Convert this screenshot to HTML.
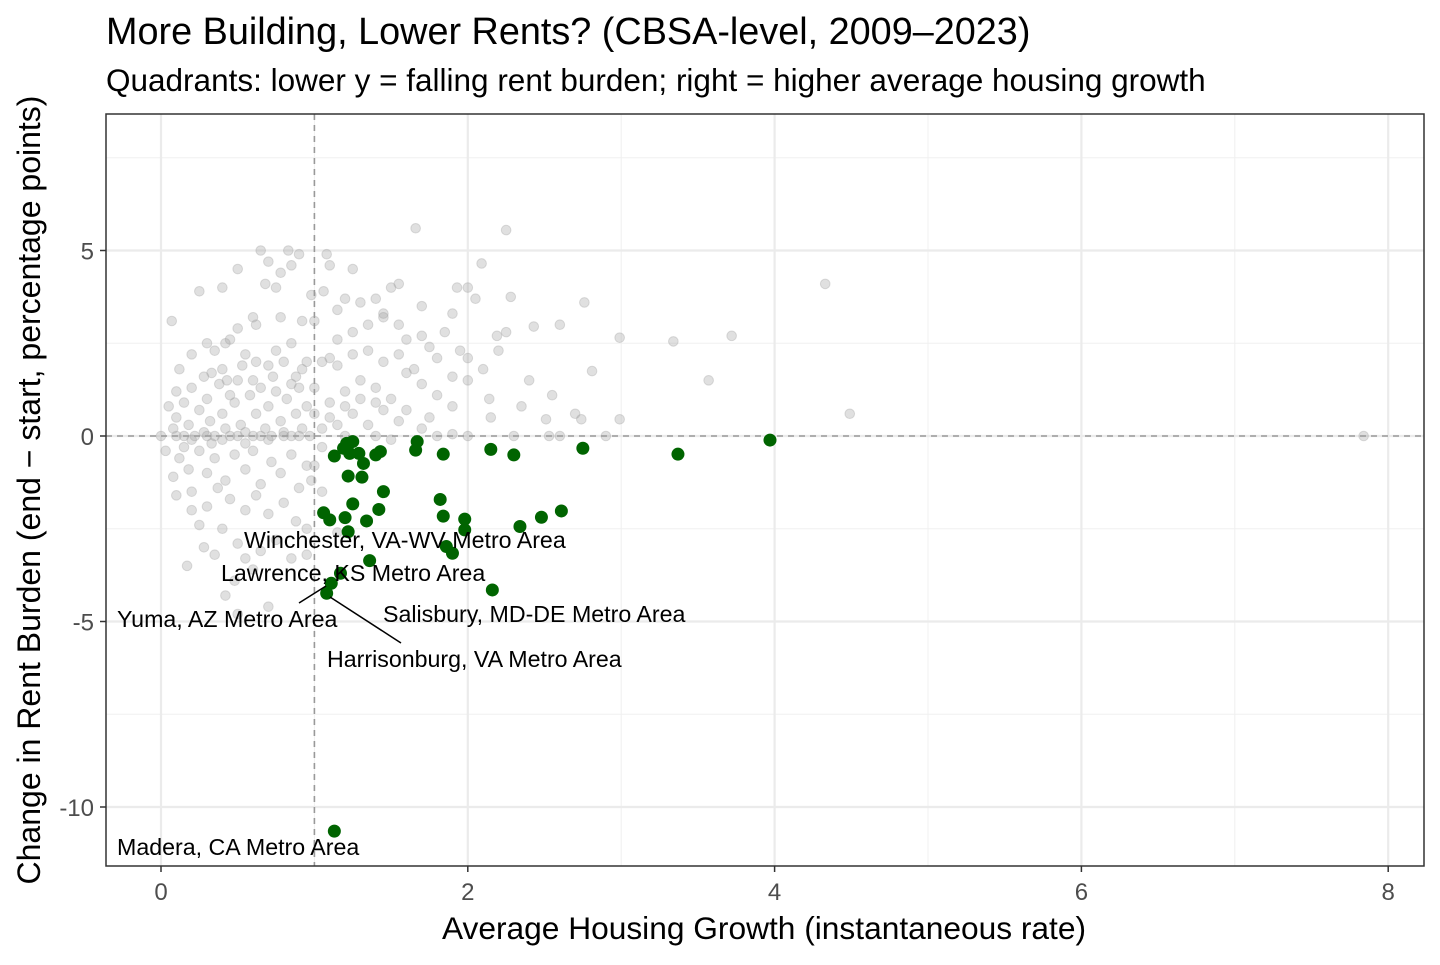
<!DOCTYPE html>
<html><head><meta charset="utf-8"><style>
body{margin:0;background:#fff;font-family:"Liberation Sans",Arial,sans-serif;}
svg text{font-family:"Liberation Sans",Arial,sans-serif;}
</style></head><body>
<svg id="chart" width="1440" height="960" xmlns="http://www.w3.org/2000/svg">
<text x="106" y="44" font-size="37.8" fill="#000">More Building, Lower Rents? (CBSA-level, 2009–2023)</text>
<text x="106" y="91" font-size="31.5" fill="#000">Quadrants: lower y = falling rent burden; right = higher average housing growth</text>
<g id="grid"></g>
<g id="pts"></g>
<g id="labels"></g>
<rect x="106" y="114" width="1318" height="752" fill="none" stroke="#333" stroke-width="1.5"/>
<g id="axes"></g>
<text x="764" y="939" font-size="31.7" text-anchor="middle">Average Housing Growth (instantaneous rate)</text>
<text transform="translate(40,490) rotate(-90)" font-size="32" text-anchor="middle">Change in Rent Burden (end − start, percentage points)</text>
</svg>
<script>
const xMajor=[0,2,4,6,8];
const xMinor=[1,3,5,7];
const yMajor=[-10,-5,0,5];
const yMinor=[-7.5,-2.5,2.5,7.5];
const greenX=[1.21,1.25,1.19,1.13,1.23,1.29,1.32,1.40,1.43,1.22,1.31,1.67,1.66,1.84,2.15,2.30,2.75,1.45,1.25,1.42,1.06,1.10,1.20,1.34,1.82,1.84,1.98,1.98,1.22,1.86,1.90,2.34,2.48,2.61,1.36,1.17,1.11,1.08,2.16,3.37,3.97,1.13];
const greenY=[-0.20,-0.15,-0.33,-0.54,-0.47,-0.47,-0.74,-0.51,-0.42,-1.08,-1.11,-0.15,-0.38,-0.49,-0.36,-0.51,-0.33,-1.50,-1.83,-1.98,-2.07,-2.26,-2.20,-2.29,-1.71,-2.16,-2.24,-2.53,-2.58,-2.98,-3.16,-2.44,-2.19,-2.02,-3.36,-3.70,-3.97,-4.24,-4.15,-0.49,-0.11,-10.65];
const grayPts=[[4.33,4.1],[7.84,0],[4.49,0.6],[3.57,1.5],[3.72,2.7],[3.34,2.55],[2.99,2.65],[2.76,3.6],[2.6,3.0],[2.81,1.75],[2.25,5.55],[1.66,5.6],[2.09,4.65],[2.28,3.75],[1.93,4.0],[2.43,2.95],[2.19,2.7],[2.51,0.45],[2.99,0.45],[2.74,0.45],[2.53,0],[2.14,1.0],
[0.07,3.1],[0.25,3.9],[0.4,4.0],[0.42,2.5],[0.5,4.5],[0.6,3.2],[0.65,5.0],[0.7,4.7],[0.78,4.4],[0.83,5.0],[0.85,4.6],[0.9,4.9],[0.68,4.1],[0.75,4.0],[0.62,3.0],[0.78,3.2],[0.92,3.1],[1.08,4.9],[1.1,4.6],[1.2,3.7],[1.25,4.5],[1.3,3.6],[1.45,3.3],[1.5,4.0],[1.35,3.0],[1.45,3.2],[1.55,3.0],[1.6,2.6],[1.7,2.7],[1.75,2.4],[1.1,2.1],[1.0,3.1],[0.98,3.8],[1.06,3.9],[0.2,2.2],[0.3,2.5],[0.35,2.3],[0.45,2.6],[0.5,2.9],[0.55,2.2],[0.28,1.6],[0.4,1.8],[0.45,1.1],[0.6,1.5],[0.7,1.9],[0.75,2.3],[0.85,2.5],[0.88,1.6],[0.95,2.0],[1.0,1.3],[1.05,2.0],[1.15,1.9],[1.25,2.2],[1.35,2.3],[1.45,2.0],[1.55,2.2],[1.65,1.8],[1.8,2.1],[1.85,2.8],[1.95,2.3],[2.0,2.1],[2.1,1.8],[2.05,3.7],[1.9,3.3],[1.3,1.5],[1.4,1.3],[1.5,1.0],[1.6,1.7],[1.2,1.2],[1.1,0.9],[1.7,1.4],[1.8,1.1],[1.9,0.8],[2.0,1.5],[1.75,0.5],[1.45,0.7],[1.25,0.6],[1.35,0.3],[1.55,0.4],[1.7,0.2],[1.15,0.3],[1.9,0.05],[2.0,0.0],[2.3,0.0],[2.6,0.0],[2.9,0.0],[1.8,0.0],
[0.05,0.8],[0.1,0.5],[0.15,0.9],[0.18,0.3],[0.2,1.3],[0.22,0.0],[0.25,0.7],[0.28,0.1],[0.3,1.0],[0.32,0.4],[0.35,0.0],[0.38,1.4],[0.4,0.6],[0.42,0.2],[0.45,0.0],[0.48,0.9],[0.5,1.5],[0.52,0.3],[0.55,0.1],[0.58,1.1],[0.6,0.0],[0.62,0.6],[0.65,1.3],[0.68,0.2],[0.7,0.8],[0.72,0.0],[0.75,1.2],[0.78,0.4],[0.8,0.1],[0.82,1.0],[0.85,0.0],[0.88,0.6],[0.9,1.3],[0.92,0.2],[0.95,0.8],[0.97,0.0],[0.1,0.0],[0.15,0.0],[0.3,0.0],[0.5,0.0],[0.65,0.0],[0.8,0.0],[0.9,0.0],[0.2,-0.1],[0.4,-0.1],[0.55,-0.2],[0.7,-0.1],[0.0,0.0],[0.03,-0.4],[0.12,-0.6],[0.18,-0.9],[0.25,-0.4],[0.3,-1.0],[0.35,-0.6],[0.42,-1.2],[0.48,-0.5],[0.55,-0.9],[0.6,-0.4],[0.65,-1.3],[0.72,-0.7],[0.78,-1.0],[0.85,-0.5],[0.9,-1.4],[0.95,-0.8],[0.08,-1.1],[0.2,-1.5],[0.3,-1.9],[0.37,-1.4],[0.45,-1.7],[0.55,-2.0],[0.62,-1.6],[0.7,-2.1],[0.8,-1.8],[0.88,-2.3],[0.25,-2.4],[0.4,-2.5],[0.5,-2.9],[0.65,-3.1],[0.75,-2.8],[0.85,-3.3],[0.6,-3.6],[0.48,-3.9],[0.17,-3.5],[0.35,-3.2],[0.28,-3.0],[0.2,-2.0],[0.1,-1.6],[0.95,-2.5],[0.98,-1.2],[0.1,1.2],[0.12,1.8],[0.08,0.2],[0.33,1.7],[0.43,1.5],[0.53,1.9],[0.62,2.0],[0.73,1.6],[0.8,2.0],[0.85,1.4],[0.92,1.8],[0.15,-0.3],[0.33,-0.2],[1.05,0.2],[1.1,0.5],[1.2,0.8],[1.3,1.0],[1.4,0.9],[1.0,0.6],[1.6,0.7],[1.5,-0.1],[1.4,0.0],[1.2,0.0],[1.05,-0.3],[1.0,-0.8],[1.05,-1.5],[1.15,-2.6],[0.7,-4.6],[0.5,-4.8],[0.55,-3.3],[0.42,-4.3],[0.95,-3.2],[2.2,2.3],[2.4,1.5],[2.55,1.1],[2.7,0.6],[2.35,0.8],[2.15,0.5],[2.25,2.8],[1.9,1.6],[2.0,4.0],[1.7,3.5],[1.55,4.1],[1.4,3.7],[1.25,2.8],[1.15,3.4],[1.15,2.6]];
const labelText=["Winchester, VA-WV Metro Area","Lawrence, KS Metro Area","Yuma, AZ Metro Area","Salisbury, MD-DE Metro Area","Harrisonburg, VA Metro Area","Madera, CA Metro Area"];
const labelX=[244,221,117,383,327,117];
const labelY=[548,581,627,622,667,855];

const NS="http://www.w3.org/2000/svg";
const xs=v=>161+v*153.4;
const ys=v=>436-v*37.1;
const L=106,R=1424,T=114,B=866;
function mk(tag,attrs,parent){const e=document.createElementNS(NS,tag);for(const k in attrs)e.setAttribute(k,attrs[k]);parent.appendChild(e);return e;}
const grid=document.getElementById('grid'),axes=document.getElementById('axes'),pts=document.getElementById('pts'),lab=document.getElementById('labels');
xMinor.forEach(v=>{const e=mk('line',{x1:xs(v),x2:xs(v),y1:T,y2:B,stroke:'#f0f0f0','stroke-width':1},grid);

});
yMinor.forEach(v=>{const e=mk('line',{x1:L,x2:R,y1:ys(v),y2:ys(v),stroke:'#f0f0f0','stroke-width':1},grid);

});
xMajor.forEach(v=>{const e=mk('line',{x1:xs(v),x2:xs(v),y1:T,y2:B,stroke:'#ebebeb','stroke-width':2.2},grid);


const tk=mk('line',{x1:xs(v),x2:xs(v),y1:B,y2:B+6,stroke:'#333','stroke-width':1.5},axes);


const t=mk('text',{x:xs(v),y:B+34,'font-size':24,fill:'#4d4d4d','text-anchor':'middle'},axes);t.textContent=v;

});
yMajor.forEach(v=>{const e=mk('line',{x1:L,x2:R,y1:ys(v),y2:ys(v),stroke:'#ebebeb','stroke-width':2.2},grid);


const tk=mk('line',{x1:L-6,x2:L,y1:ys(v),y2:ys(v),stroke:'#333','stroke-width':1.5},axes);


const t=mk('text',{x:L-12,y:ys(v)+9,'font-size':24,fill:'#4d4d4d','text-anchor':'end'},axes);t.textContent=v;

});
const v1=mk('line',{x1:xs(1),x2:xs(1),y1:T,y2:B,stroke:'#999','stroke-width':1.6,'stroke-dasharray':'6,5'},grid);


const h0=mk('line',{x1:L,x2:R,y1:ys(0),y2:ys(0),stroke:'#999','stroke-width':1.6,'stroke-dasharray':'6,5'},grid);


grayPts.forEach(p=>{const c=mk('circle',{cx:xs(p[0]),cy:ys(p[1]),r:4.8,fill:'#a0a0a0','fill-opacity':0.33,stroke:'#a0a0a0','stroke-opacity':0.35},pts);

});
greenX.forEach((x,i)=>{const c=mk('circle',{cx:xs(x),cy:ys(greenY[i]),r:6.5,fill:'#006400'},pts);

});
[[299,603,326,586],[330,597,401,643]].forEach(l=>{const e=mk('line',{x1:l[0],y1:l[1],x2:l[2],y2:l[3],stroke:'#000','stroke-width':1.5},lab);

});
labelText.forEach((s,i)=>{const t=mk('text',{x:labelX[i],y:labelY[i],'font-size':23.2,fill:'#000'},lab);t.textContent=s;

});
</script>
</body></html>
